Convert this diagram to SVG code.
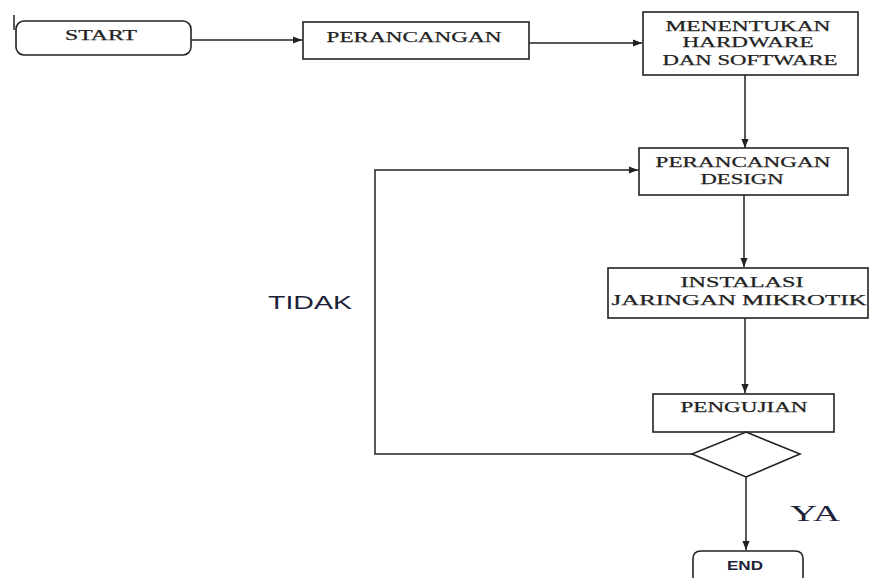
<svg xmlns="http://www.w3.org/2000/svg" width="869" height="578" viewBox="0 0 869 578">
<style>
.box{fill:#fff;stroke:#222;stroke-width:1.6}
.ln{fill:none;stroke:#222;stroke-width:1.5}
.t{font-family:"Liberation Serif","Times New Roman",serif;font-size:15px;fill:#222;stroke:#222;stroke-width:0.25;text-anchor:middle}
.s{font-family:"Liberation Sans",Arial,sans-serif;fill:#1c2238}
.ya{font-family:"Liberation Serif","Times New Roman",serif;font-size:23px;fill:#1c2238}
</style>
<defs>
<marker id="ah" viewBox="0 0 10 10" refX="10" refY="5" markerWidth="9" markerHeight="9" markerUnits="userSpaceOnUse" orient="auto">
<path d="M0,1 L10,5 L0,9 z" fill="#222"/>
</marker>
</defs>
<line x1="14" y1="15" x2="14" y2="30" class="ln"/>
<g id="connectors">
<line x1="191" y1="40" x2="302" y2="40" class="ln" marker-end="url(#ah)"/>
<line x1="529" y1="43" x2="642" y2="43" class="ln" marker-end="url(#ah)"/>
<line x1="745" y1="75" x2="745" y2="148" class="ln" marker-end="url(#ah)"/>
<line x1="744" y1="195" x2="744" y2="267" class="ln" marker-end="url(#ah)"/>
<line x1="745" y1="318" x2="745" y2="393" class="ln" marker-end="url(#ah)"/>
<line x1="746" y1="477" x2="746" y2="550" class="ln" marker-end="url(#ah)"/>
<polyline points="692,454 375,454 375,170 638,170" class="ln" marker-end="url(#ah)"/>
</g>
<g id="start">
<rect x="16" y="21" width="175" height="34" rx="8" class="box"/>
<text x="101" y="40" class="t" textLength="72" lengthAdjust="spacingAndGlyphs">START</text>
</g>
<g id="perancangan">
<rect x="303" y="22" width="226" height="37" class="box"/>
<text x="414" y="42" class="t" textLength="175" lengthAdjust="spacingAndGlyphs">PERANCANGAN</text>
</g>
<g id="menentukan">
<rect x="643" y="12" width="215" height="63" class="box"/>
<text x="748" y="31" class="t" textLength="165" lengthAdjust="spacingAndGlyphs">MENENTUKAN</text>
<text x="748" y="47" class="t" textLength="131" lengthAdjust="spacingAndGlyphs">HARDWARE</text>
<text x="750" y="65" class="t" textLength="175" lengthAdjust="spacingAndGlyphs">DAN SOFTWARE</text>
</g>
<g id="design">
<rect x="639" y="148" width="209" height="47" class="box"/>
<text x="743" y="167" class="t" textLength="175" lengthAdjust="spacingAndGlyphs">PERANCANGAN</text>
<text x="742" y="184" class="t" textLength="83" lengthAdjust="spacingAndGlyphs">DESIGN</text>
</g>
<g id="instalasi">
<rect x="608" y="268" width="260" height="50" class="box"/>
<text x="742" y="287" class="t" textLength="123" lengthAdjust="spacingAndGlyphs">INSTALASI</text>
<text x="739" y="305" class="t" textLength="255" lengthAdjust="spacingAndGlyphs">JARINGAN MIKROTIK</text>
</g>
<g id="pengujian">
<rect x="653" y="394" width="181" height="38" class="box"/>
<text x="744" y="412" class="t" textLength="127" lengthAdjust="spacingAndGlyphs">PENGUJIAN</text>
</g>
<g id="decision">
<polygon points="746,432 800,454 746,477 692,454" class="box"/>
</g>
<g id="end">
<path d="M693,580 L693,559 Q693,551 701,551 L795,551 Q803,551 803,559 L803,580" class="box"/>
<text x="745" y="570" class="s" font-size="12" font-weight="bold" text-anchor="middle" textLength="36" lengthAdjust="spacingAndGlyphs" fill="#222">END</text>
</g>
<text x="268" y="309" class="s" font-size="18" textLength="84" lengthAdjust="spacingAndGlyphs">TIDAK</text>
<text x="790" y="521" class="ya" textLength="50" lengthAdjust="spacingAndGlyphs">YA</text>
</svg>
